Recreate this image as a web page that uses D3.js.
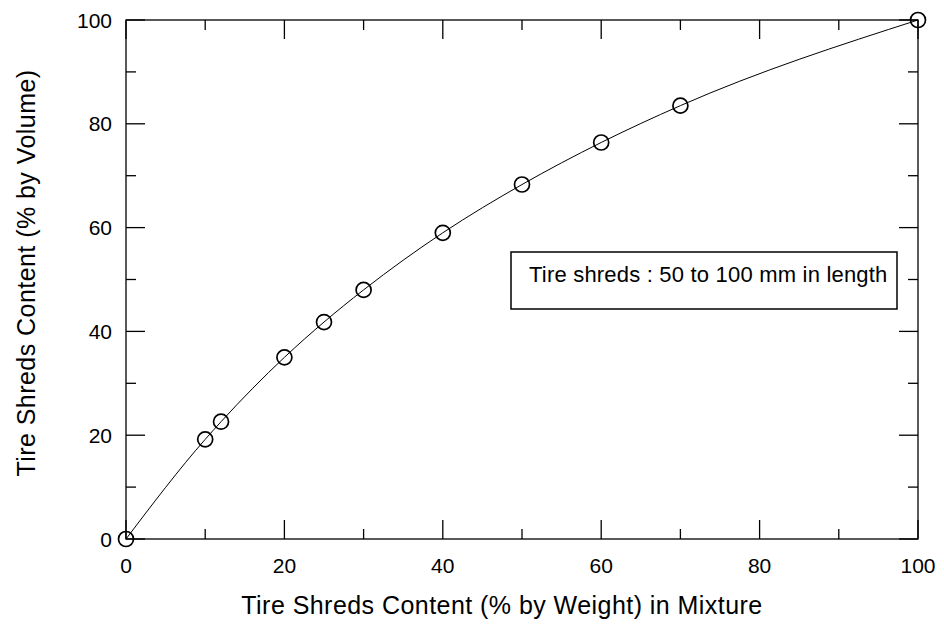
<!DOCTYPE html>
<html>
<head>
<meta charset="utf-8">
<script src="https://cdn.jsdelivr.net/npm/d3@7"></script>
<style>
  body { margin: 0; background: #fff; }
  text { font-family: "Liberation Sans", Arial, sans-serif; fill: #000; }
</style>
</head>
<body>
<div id="chart"></div>
<script>
var weightPct = [0, 10, 12, 20, 25, 30, 40, 50, 60, 70, 100];
var volumePct = [0, 19.2, 22.6, 35, 41.8, 48, 59, 68.3, 76.4, 83.5, 100];
var majorTicks = [0, 20, 40, 60, 80, 100];
var minorTicks = [10, 30, 50, 70, 90];
var xTitle = "Tire Shreds Content (% by Weight) in Mixture";
var yTitle = "Tire Shreds Content (% by Volume)";
var note = "Tire shreds : 50 to 100 mm in length";

function init(){
    var w = 944, h = 624;
    var left = 126, right = 918, top = 20, bottom = 539;

    var svg = d3.select("#chart").append("svg")
                .attr("width", w)
                .attr("height", h);

    var x = d3.scaleLinear().domain([0, 100]).range([left, right]);
    var y = d3.scaleLinear().domain([0, 100]).range([bottom, top]);

    // frame
    svg.append("rect")
       .attr("x", left).attr("y", top)
       .attr("width", right - left).attr("height", bottom - top)
       .attr("fill", "none").attr("stroke", "#000").attr("stroke-width", 1.3);

    var ticks = svg.append("g").attr("stroke", "#000").attr("stroke-width", 1.3);
    function addTicks(vals, len){
        vals.forEach(function(v){
            // bottom and top
            ticks.append("line").attr("x1", x(v)).attr("x2", x(v)).attr("y1", bottom).attr("y2", bottom - len);
            ticks.append("line").attr("x1", x(v)).attr("x2", x(v)).attr("y1", top).attr("y2", top + len);
            // left and right
            ticks.append("line").attr("y1", y(v)).attr("y2", y(v)).attr("x1", left).attr("x2", left + len);
            ticks.append("line").attr("y1", y(v)).attr("y2", y(v)).attr("x1", right).attr("x2", right - len);
        });
    }
    addTicks(majorTicks, 19);
    addTicks(minorTicks, 10);

    // tick labels
    svg.selectAll("text.xl").data(majorTicks).enter().append("text")
       .attr("x", function(d){ return x(d); })
       .attr("y", 573)
       .attr("text-anchor", "middle")
       .style("font-size", "21px")
       .text(function(d){ return d; });

    svg.selectAll("text.yl").data(majorTicks).enter().append("text")
       .attr("x", 112)
       .attr("y", function(d){ return y(d) + 7.5; })
       .attr("text-anchor", "end")
       .style("font-size", "21px")
       .text(function(d){ return d; });

    // axis titles
    svg.append("text")
       .attr("x", (left + right) / 2 - 20)
       .attr("y", 614)
       .attr("text-anchor", "middle")
       .style("font-size", "25px")
       .style("letter-spacing", "0.45px")
       .text(xTitle);

    svg.append("text")
       .attr("transform", "translate(35,273) rotate(-90)")
       .attr("text-anchor", "middle")
       .style("font-size", "25px")
       .style("letter-spacing", "0.45px")
       .text(yTitle);

    var pts = weightPct.map(function(d, i){ return [d, volumePct[i]]; });

    var line = d3.line()
                 .x(function(d){ return x(d[0]); })
                 .y(function(d){ return y(d[1]); })
                 .curve(d3.curveMonotoneX);

    svg.append("path")
       .attr("d", line(pts))
       .attr("fill", "none")
       .attr("stroke", "#000")
       .attr("stroke-width", 1);

    svg.selectAll("circle").data(pts).enter().append("circle")
       .attr("cx", function(d){ return x(d[0]); })
       .attr("cy", function(d){ return y(d[1]); })
       .attr("r", 7.5)
       .attr("fill", "none")
       .attr("stroke", "#000")
       .attr("stroke-width", 1.7);

    // note box
    svg.append("rect")
       .attr("x", 511).attr("y", 252)
       .attr("width", 386).attr("height", 57)
       .attr("fill", "#fff").attr("stroke", "#000").attr("stroke-width", 1.5);
    svg.append("text")
       .attr("x", 529).attr("y", 282)
       .style("font-size", "22px")
       .style("letter-spacing", "0.2px")
       .text(note);
}

window.onload = init;
</script>
</body>
</html>
